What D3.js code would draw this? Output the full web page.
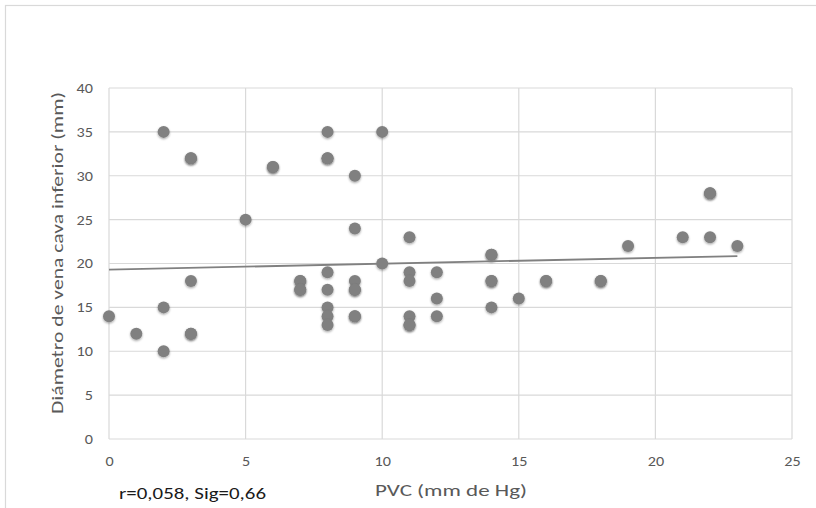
<!DOCTYPE html>
<html><head><meta charset="utf-8">
<script src="https://cdn.jsdelivr.net/npm/d3@7"></script>
<style>
html,body{margin:0;padding:0;background:#fff;}
text{font-family:Carlito,Lato,"Open Sans",sans-serif;}
</style></head>
<body>
<svg id="c" width="816" height="508"></svg>
<script>
// Data
const pvc      = [0,1,2,2,2,3,3,3,3,3,5,6,6,7,7,7,7,8,8,8,8,8,8,8,8,9,9,9,9,9,9,9,10,10,11,11,11,11,11,11,12,12,12,14,14,14,14,14,15,16,16,18,18,19,21,22,22,22,23];
const diametro = [14,12,35,15,10,32,32,18,12,12,25,31,31,18,18,17,17,35,32,32,19,17,15,14,13,30,24,18,17,17,14,14,35,20,23,19,18,14,13,13,19,16,14,21,21,18,18,15,16,18,18,18,18,22,23,28,28,23,22];
const trendX = [0,23];
const trendY = [19.3,20.85];
const xTicks = [0,5,10,15,20,25];
const yTicks = [0,5,10,15,20,25,30,35,40];
const xTitle = "PVC (mm  de Hg)";
const yTitle = "Diámetro de vena cava inferior (mm)";
const note = "r=0,058,  Sig=0,66";

const svg = d3.select("#c");
const x = d3.scaleLinear().domain([0,25]).range([109,792]);
const y = d3.scaleLinear().domain([0,40]).range([439,88]);

// outer chart border
svg.append("rect").attr("x",5.5).attr("y",5.5).attr("width",830).attr("height",520)
  .attr("fill","#fff").attr("stroke","#d9d9d9").attr("stroke-width",1.2);

const defs = svg.append("defs");
const f = defs.append("filter").attr("id","sh").attr("x","-50%").attr("y","-50%").attr("width","200%").attr("height","200%");
f.append("feDropShadow").attr("dx",0).attr("dy",1.2).attr("stdDeviation",1.1)
  .attr("flood-color","#000").attr("flood-opacity",0.35);

// gridlines
svg.append("g").selectAll("line").data(xTicks).join("line")
  .attr("x1",d=>x(d)).attr("x2",d=>x(d)).attr("y1",y(0)).attr("y2",y(40))
  .attr("stroke","#d9d9d9").attr("stroke-width",1.2);
svg.append("g").selectAll("line").data(yTicks).join("line")
  .attr("x1",x(0)).attr("x2",x(25)).attr("y1",d=>y(d)).attr("y2",d=>y(d))
  .attr("stroke","#d9d9d9").attr("stroke-width",1.2);

// axes (labels only)
const xa = svg.append("g").attr("transform",`translate(0,${y(0)})`)
  .call(d3.axisBottom(x).tickValues(xTicks).tickSize(0).tickPadding(17).tickFormat(d3.format("d")));
const ya = svg.append("g").attr("transform",`translate(${x(0)},0)`)
  .call(d3.axisLeft(y).tickValues(yTicks).tickSize(0).tickPadding(16).tickFormat(d3.format("d")));
[xa,ya].forEach(a=>{
  a.select(".domain").remove();
  a.selectAll("text").attr("fill","#595959").style("font-size","14px")
   .style("font-family","Carlito,Lato,'Open Sans',sans-serif")
   .attr("textLength",function(){return this.textContent.length*8.2;})
   .attr("lengthAdjust","spacingAndGlyphs");
});

// points
svg.append("g").selectAll("circle").data(pvc.map((v,i)=>[v,diametro[i]])).join("circle")
  .attr("cx",d=>x(d[0])).attr("cy",d=>y(d[1])).attr("r",6)
  .attr("fill","#808080").attr("filter","url(#sh)");

// trend line
svg.append("path").datum(trendX.map((v,i)=>[v,trendY[i]]))
  .attr("d",d3.line().x(d=>x(d[0])).y(d=>y(d[1])))
  .attr("fill","none").attr("stroke","#808080").attr("stroke-width",1.8);

// titles
svg.append("text").attr("x",451).attr("y",496).attr("text-anchor","middle")
  .attr("fill","#595959").style("font-size","17px")
  .attr("textLength",152).attr("lengthAdjust","spacingAndGlyphs").text(xTitle);
svg.append("text").attr("transform",`translate(63,253) rotate(-90)`)
  .attr("text-anchor","middle").attr("fill","#595959").style("font-size","17px")
  .attr("textLength",322).attr("lengthAdjust","spacingAndGlyphs").text(yTitle);
svg.append("text").attr("x",119).attr("y",499).attr("fill","#1a1a1a")
  .style("font-size","15.5px")
  .attr("textLength",147).attr("lengthAdjust","spacingAndGlyphs").text(note);
</script>
</body></html>
